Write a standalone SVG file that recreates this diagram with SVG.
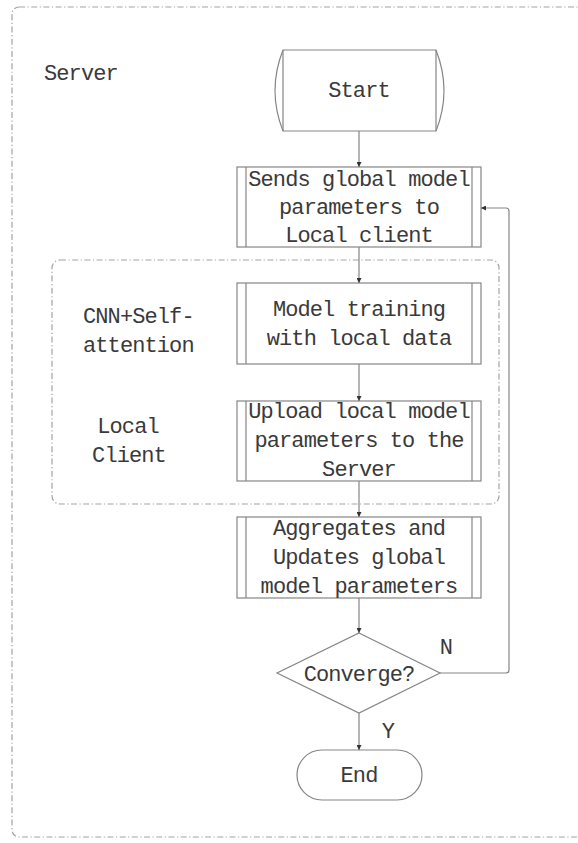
<svg xmlns="http://www.w3.org/2000/svg" width="578" height="843" viewBox="0 0 578 843">
<style>
  .frame { fill: none; stroke: #a3a3a3; stroke-width: 1.2; stroke-dasharray: 6 2.5 1.2 2.5; }
  .shape { fill: #ffffff; stroke: #858585; stroke-width: 1.2; }
  .line { fill: none; stroke: #858585; stroke-width: 1.2; }
  .conn { fill: none; stroke: #858585; stroke-width: 1.2; marker-end: url(#arr); }
  text { font-family: "Liberation Mono", "DejaVu Sans Mono", monospace; font-size: 22px; letter-spacing: -0.9px; fill: #3a3a3a; }
  .c { text-anchor: middle; }
</style>
<defs>
  <marker id="arr" viewBox="0 0 10 10" refX="10" refY="5" markerWidth="5" markerHeight="5" markerUnits="userSpaceOnUse" orient="auto">
    <path d="M0,0 L10,5 L0,10 z" fill="#333333"/>
  </marker>
</defs>
<rect width="578" height="843" fill="#ffffff"/>

<g id="server-frame">
  <rect class="frame" x="12" y="7" width="600" height="830" rx="7"/>
  <text x="44" y="80">Server</text>
</g>

<g id="client-frame">
  <rect class="frame" x="52" y="260" width="447" height="244" rx="8"/>
  <text x="83" y="323">CNN+Self-</text>
  <text x="83" y="352">attention</text>
  <text class="c" x="128" y="433">Local</text>
  <text class="c" x="129" y="462">Client</text>
</g>

<g id="start">
  <path class="shape" d="M283,50 L436,50 Q452,90.5 436,131 L283,131 Q267,90.5 283,50 Z"/>
  <path class="line" d="M283,50 V131 M436,50 V131"/>
  <text class="c" x="359" y="97">Start</text>
</g>

<g id="send">
  <rect class="shape" x="237" y="167" width="244" height="80"/>
  <path class="line" d="M246,167 V247 M472,167 V247"/>
  <text class="c" x="359" y="186">Sends global model</text>
  <text class="c" x="359" y="214">parameters to</text>
  <text class="c" x="359" y="242">Local client</text>
</g>

<g id="train">
  <rect class="shape" x="237" y="283" width="244" height="81"/>
  <path class="line" d="M246,283 V364 M472,283 V364"/>
  <text class="c" x="359" y="316">Model training</text>
  <text class="c" x="359" y="345">with local data</text>
</g>

<g id="upload">
  <rect class="shape" x="237" y="401" width="244" height="80"/>
  <path class="line" d="M246,401 V481 M472,401 V481"/>
  <text class="c" x="359" y="418">Upload local model</text>
  <text class="c" x="359" y="447">parameters to the</text>
  <text class="c" x="359" y="476">Server</text>
</g>

<g id="aggregate">
  <rect class="shape" x="237" y="517" width="244" height="81"/>
  <path class="line" d="M246,517 V598 M472,517 V598"/>
  <text class="c" x="359" y="535">Aggregates and</text>
  <text class="c" x="359" y="564">Updates global</text>
  <text class="c" x="359" y="593">model parameters</text>
</g>

<g id="converge">
  <path class="shape" d="M359,633 L440,673 L359,713 L277,673 Z"/>
  <text class="c" x="359" y="681">Converge?</text>
</g>

<g id="end">
  <rect class="shape" x="297" y="750" width="125" height="50" rx="25"/>
  <text class="c" x="359" y="782">End</text>
</g>

<g id="connectors">
  <path class="conn" d="M359,131 V167"/>
  <path class="conn" d="M359,247 V283"/>
  <path class="conn" d="M359,364 V401"/>
  <path class="conn" d="M359,481 V517"/>
  <path class="conn" d="M359,598 V633"/>
  <path class="conn" d="M359,713 V750"/>
  <path class="conn" d="M440,673 H506 Q509,673 509,670 V211 Q509,208 506,208 H481"/>
  <text class="c" x="446" y="654">N</text>
  <text class="c" x="388" y="738">Y</text>
</g>
</svg>
